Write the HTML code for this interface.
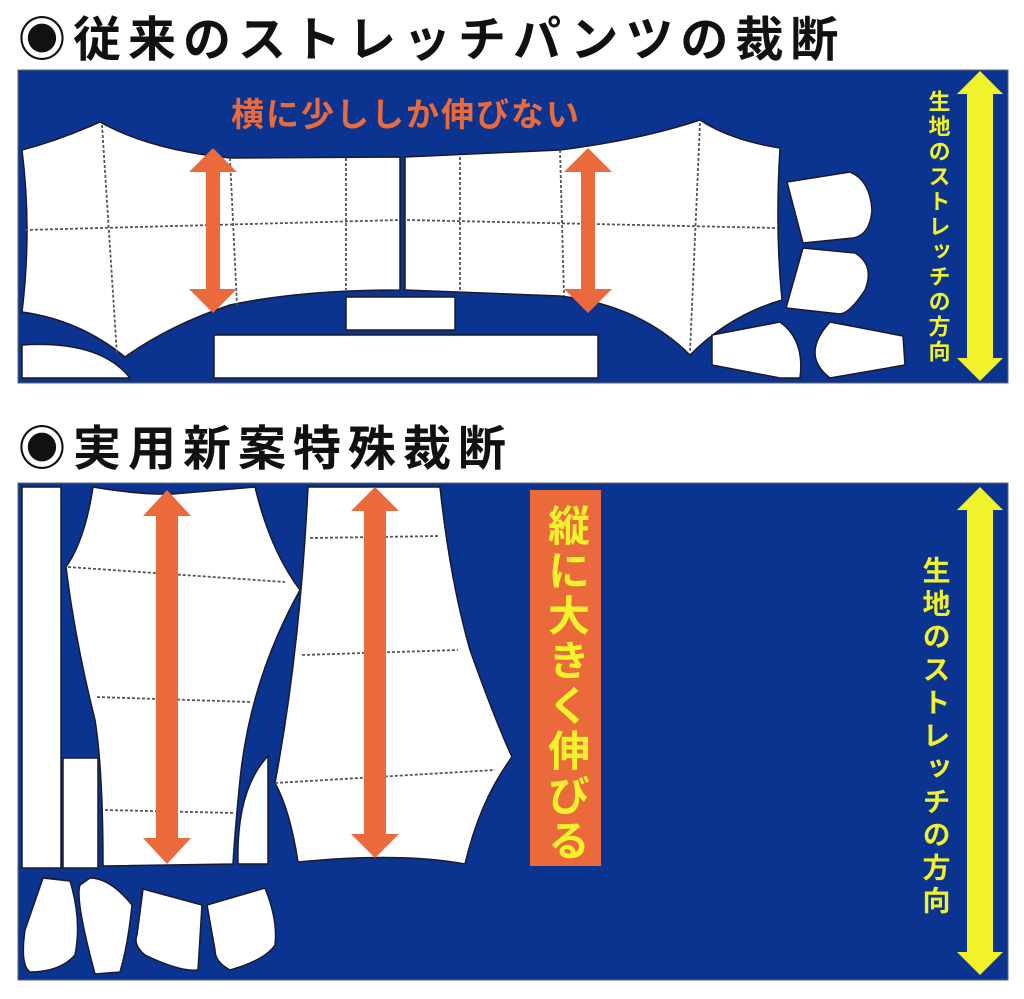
<!DOCTYPE html>
<html><head><meta charset="utf-8"><style>
html,body{margin:0;padding:0;background:#fff;}
svg{display:block;}
text{font-family:"Liberation Sans","Noto Sans CJK JP",sans-serif;}
</style></head><body>
<svg width="1024" height="999" viewBox="0 0 1024 999" xmlns="http://www.w3.org/2000/svg">
<defs>
<style>.p{fill:#fff;stroke:#1a1a2a;stroke-width:1.5}.d{stroke:#555;stroke-width:1.8;stroke-dasharray:3 2;fill:none}</style>
</defs>
<text x="18" y="56" font-size="48" font-weight="bold" letter-spacing="7" fill="#111">◉従来のストレッチパンツの裁断</text>
<rect x="18" y="70" width="990" height="313" fill="#0b3491" stroke="#666" stroke-width="1"/>
<path class="p" d="M22,150 Q60,140 100,122 Q150,150 230,158 L400,157 L400,290 Q300,290 230,305 Q170,325 125,357 Q80,320 22,312 Q32,230 22,150Z"/>
<path class="p" d="M405,157 L560,150 Q640,140 700,120 Q730,140 780,148 Q775,230 782,300 Q730,315 690,355 Q640,305 560,296 L405,290Z"/>
<path class="d" d="M102,125 L117,355 M230,158 L237,305 M346,158 L346,290 M25,230 L400,220 M407,220 L778,228 M460,157 L460,290 M560,150 L564,296 M700,123 L690,352"/>
<rect class="p" x="346" y="297" width="109" height="33"/>
<rect class="p" x="214" y="335" width="384" height="43"/>
<path class="p" d="M22,345 Q100,340 130,378 L22,378Z"/>
<path class="p" d="M787,182 L850,172 Q870,180 872,210 Q870,235 853,238 L803,243Z"/>
<path class="p" d="M803,248 L855,253 Q875,265 865,290 Q850,313 840,314 L786,308Z"/>
<path class="p" d="M712,335 L780,322 Q805,340 800,378 L780,378 L712,365Z"/>
<path class="p" d="M830,322 L903,336 L905,365 L830,378 Q800,355 830,322Z"/>
<path fill="#ea6a3c" d="M213,148 L237,172 L220,172 L220,289 L237,289 L213,313 L189,289 L206,289 L206,172 L189,172Z"/>
<path fill="#ea6a3c" d="M588,148 L612,172 L595,172 L595,289 L612,289 L588,313 L564,289 L581,289 L581,172 L564,172Z"/>
<text x="406" y="126" font-size="33" font-weight="bold" fill="#ea6a3c" text-anchor="middle" letter-spacing="2">横に少ししか伸びない</text>
<path fill="#f2f22c" d="M980,71 L1003,94 L993,94 L993,358 L1003,358 L980,381 L957,358 L967,358 L967,94 L957,94Z"/>
<text font-size="22" font-weight="bold" fill="#f2f22c" style="writing-mode:vertical-rl" x="938" y="90" letter-spacing="3">生地のストレッチの方向</text>

<text x="18" y="465" font-size="48" font-weight="bold" letter-spacing="7" fill="#111">◉実用新案特殊裁断</text>
<rect x="18" y="483" width="990" height="497" fill="#0b3491" stroke="#666" stroke-width="1"/>
<rect class="p" x="22" y="487" width="39" height="381"/>
<rect class="p" x="63" y="758" width="35" height="110"/>
<path class="p" d="M93,487 Q140,495 173,494 L255,487 Q270,550 300,590 Q250,680 240,780 Q235,830 233,864 L103,866 Q103,770 95,720 Q75,640 66,567 Q85,540 93,487Z"/>
<path class="p" d="M238,864 Q236,790 268,756 L268,864Z"/>
<path class="p" d="M308,487 L440,487 Q450,580 470,650 Q495,720 512,757 Q480,800 465,864 Q400,852 298,862 Q290,810 275,783 Q300,650 308,487Z"/>
<path class="d" d="M68,567 L285,582 M97,697 L250,702 M105,810 L235,813 M310,538 L440,536 M302,655 L458,650 M275,783 L495,770"/>
<path class="p" d="M43,878 L70,881 Q82,920 75,955 Q60,972 30,972 Q20,965 25,930Z"/>
<path class="p" d="M90,878 Q110,878 132,905 Q128,945 120,972 L95,974 Q75,900 80,885Z"/>
<path class="p" d="M143,889 L202,905 L198,970 Q180,972 145,955 Q133,945 137,935Z"/>
<path class="p" d="M207,905 L265,888 Q278,920 275,945 Q265,960 230,970 Q215,962 215,950Z"/>
<path fill="#ea6a3c" d="M167,490 L191,516 L178,516 L178,838 L191,838 L167,864 L143,838 L156,838 L156,516 L143,516Z"/>
<path fill="#ea6a3c" d="M375,487 L399,511 L386,511 L386,834 L399,834 L375,858 L351,834 L364,834 L364,511 L351,511Z"/>
<rect x="530" y="490" width="71" height="376" fill="#ea6a3c"/>
<text font-size="42" font-weight="bold" fill="#f2f22c" style="writing-mode:vertical-rl" x="566" y="504" letter-spacing="3">縦に大きく伸びる</text>
<path fill="#f2f22c" d="M980,487 L1003,510 L993,510 L993,952 L1003,952 L980,975 L957,952 L967,952 L967,510 L957,510Z"/>
<text font-size="28" font-weight="bold" fill="#f2f22c" style="writing-mode:vertical-rl" x="935" y="556" letter-spacing="5">生地のストレッチの方向</text>
</svg>
</body></html>
